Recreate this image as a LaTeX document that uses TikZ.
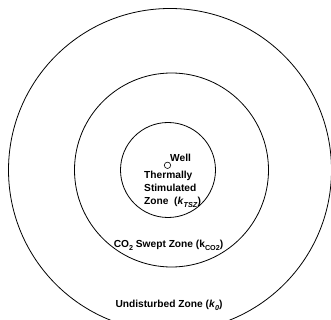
\documentclass[tikz,border=0pt]{standalone}
\usepackage{fontspec}
\setmainfont{Liberation Sans}
\newcommand{\zsub}[1]{\raisebox{-0.3em}{\fontsize{7.2}{7.2}\selectfont #1}}
\begin{document}
\begin{tikzpicture}[x=1pt,y=-1pt,
  ring/.style={draw=black,line width=0.8pt},
  lbl/.style={inner sep=0pt,font=\fontsize{10.2}{12.8}\selectfont\bfseries}]
\useasboundingbox (0,0) rectangle (331,320);
\fill[white] (0,0) rectangle (331,320);
\clip (0,0) rectangle (331,320);
\draw[ring] (170,170) circle[radius=161.5pt];
\draw[ring] (171.5,170) circle[radius=97pt];
\draw[ring] (168,170) circle[radius=47.5pt];
\node[draw=black,line width=0.6pt,circle,minimum size=6.4pt,inner sep=0pt] (well) at (167.5,165.3) {};
\node[lbl,anchor=base west] (welllbl) at (170,161.7) {Well};
\node[lbl,anchor=base west,align=left] (tsz) at (144,204.3)
  {Thermally\\Stimulated\\Zone\ \ (\textit{k}\zsub{\textit{TSZ}})};
\node[lbl,anchor=base] (co2) at (168.5,247.3) {CO\zsub{2} Swept Zone (k\zsub{CO2})};
\node[lbl,anchor=base] (und) at (169,307.3) {Undisturbed Zone (\textit{k}\zsub{\textit{0}})};
\end{tikzpicture}
\end{document}
